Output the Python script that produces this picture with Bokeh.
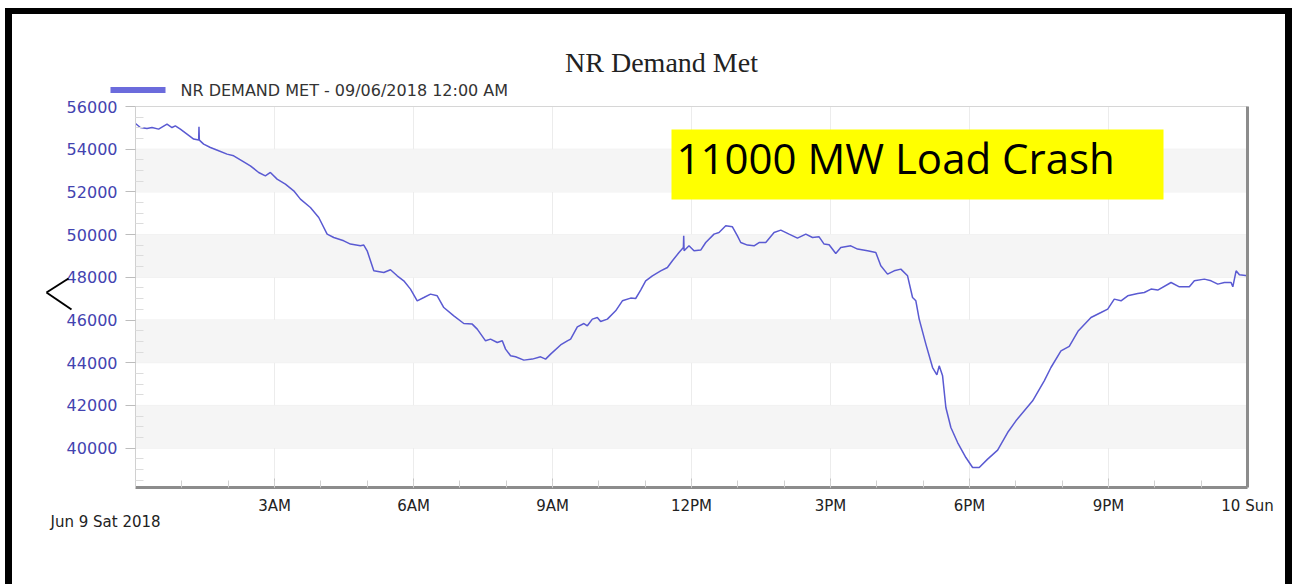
from bokeh.plotting import figure
from bokeh.models import (Range1d, FixedTicker, LinearAxis, Label, BoxAnnotation,
                          ColumnDataSource, Arrow, Div)
from bokeh.layouts import column, row
from bokeh.embed import file_html
from bokeh.resources import INLINE

# ---------------- data ----------------
hours = [0.000, 0.104, 0.248, 0.356, 0.499, 0.680, 0.788, 0.860, 0.968, 1.112,
         1.255, 1.363, 1.370, 1.378, 1.471, 1.616, 1.795, 1.976, 2.119, 2.300,
         2.479, 2.659, 2.803, 2.911, 3.056, 3.235, 3.415, 3.559, 3.775, 3.955,
         4.136, 4.279, 4.495, 4.639, 4.855, 4.927, 5.000, 5.143, 5.359, 5.503,
         5.648, 5.790, 5.935, 6.080, 6.223, 6.367, 6.512, 6.654, 6.870, 7.086,
         7.268, 7.376, 7.555, 7.663, 7.808, 7.916, 7.987, 8.095, 8.203, 8.382,
         8.564, 8.743, 8.851, 8.959, 9.175, 9.320, 9.391, 9.536, 9.678, 9.752,
         9.860, 9.968, 10.039, 10.184, 10.363, 10.508, 10.687, 10.795, 10.903, 11.011,
         11.156, 11.335, 11.480, 11.588, 11.730, 11.825, 11.832, 11.840, 11.946, 12.054,
         12.199, 12.307, 12.486, 12.594, 12.739, 12.883, 12.991, 13.063, 13.207, 13.350,
         13.458, 13.603, 13.782, 13.927, 14.106, 14.287, 14.467, 14.611, 14.754, 14.862,
         14.970, 15.114, 15.222, 15.438, 15.583, 15.799, 15.978, 16.086, 16.231, 16.374,
         16.518, 16.663, 16.771, 16.842, 16.914, 17.058, 17.203, 17.296, 17.346, 17.419,
         17.490, 17.598, 17.743, 17.922, 18.067, 18.210, 18.391, 18.607, 18.823, 19.002,
         19.363, 19.613, 19.758, 19.974, 20.153, 20.341, 20.622, 20.838, 20.983, 21.125,
         21.270, 21.415, 21.631, 21.773, 21.918, 22.063, 22.350, 22.529, 22.745, 22.853,
         23.069, 23.214, 23.359, 23.501, 23.646, 23.683, 23.754, 23.825, 24.000]

demand_mw = [55204, 55016, 54970, 55016, 54941, 55176, 55016, 55096, 54941, 54707,
             54473, 54426, 55049, 54426, 54239, 54080, 53925, 53770, 53691, 53457,
             53222, 52909, 52754, 52909, 52599, 52365, 52051, 51663, 51269, 50801,
             50023, 49864, 49709, 49555, 49475, 49508, 49241, 48304, 48225, 48351,
             48070, 47836, 47447, 46899, 47054, 47213, 47133, 46585, 46196, 45836,
             45808, 45573, 45025, 45105, 44946, 45025, 44637, 44323, 44276, 44121,
             44168, 44276, 44168, 44402, 44830, 45025, 45105, 45681, 45836, 45728,
             46042, 46117, 45929, 46042, 46431, 46899, 47025, 47007, 47400, 47836,
             48070, 48304, 48459, 48773, 49161, 49396, 49944, 49241, 49475, 49241,
             49274, 49630, 50023, 50098, 50412, 50365, 49944, 49630, 49508, 49475,
             49630, 49630, 50098, 50211, 50023, 49836, 50023, 49864, 49897, 49555,
             49522, 49115, 49396, 49475, 49321, 49241, 49161, 48538, 48150, 48304,
             48384, 48070, 47054, 46899, 46042, 44871, 43775, 43433, 43854, 43386,
             41901, 40964, 40262, 39559, 39091, 39091, 39484, 39906, 40730, 41278,
             42215, 43152, 43775, 44557, 44768, 45470, 46117, 46351, 46510, 46979,
             46899, 47133, 47241, 47288, 47447, 47400, 47756, 47555, 47555, 47836,
             47915, 47836, 47681, 47756, 47756, 47555, 48304, 48117, 48070]

x_tick_hours = [3, 6, 9, 12, 15, 18, 21, 24]
x_tick_labels = ["3AM", "6AM", "9AM", "12PM", "3PM", "6PM", "9PM", "10 Sun"]
y_ticks = [40000, 42000, 44000, 46000, 48000, 50000, 52000, 54000, 56000]
y_bottom = 38155
hour_start, hour_end = 0, 24

title_text = "NR Demand Met"
series_name = "NR DEMAND MET - 09/06/2018  12:00 AM"
date_label = "Jun 9 Sat 2018"
annotation_text = "11000 MW Load Crash"

# ---------------- geometry (page pixels) ----------------
CX, CY = 12, 14          # canvas origin on the page
W, H = 1273, 570         # canvas size
PL, PR, PT, PB = 135, 1247, 106, 487   # plot area on the page
y_top = y_ticks[-1]
kx = (PR - PL) / (hour_end - hour_start)
ky = (y_top - y_bottom) / (PB - PT)


def hx(px):
    return hour_start + (px - PL) / kx


def vy(py):
    return y_top - (py - PT) * ky


p = figure(width=W, height=H, output_backend="svg", toolbar_location=None, title=None,
           x_range=Range1d(hx(CX), hx(CX + W)), y_range=Range1d(vy(CY + H), vy(CY)),
           min_border_left=0, min_border_right=0, min_border_top=0, min_border_bottom=0)
p.background_fill_color = "white"
p.border_fill_color = "white"
p.outline_line_color = None
p.xgrid.visible = False
p.ygrid.visible = False

# background bands and grid lines of the plot area
for lo, hi in zip(y_ticks[0::2], y_ticks[1::2]):
    p.add_layout(BoxAnnotation(left=hour_start, right=hour_end, bottom=lo, top=hi,
                               fill_color="#f5f5f5", fill_alpha=1.0, line_color=None,
                               level="underlay"))
p.segment(x0=[hour_start] * len(y_ticks), y0=y_ticks, x1=[hour_end] * len(y_ticks),
          y1=y_ticks, line_color="#ededed", line_width=1, level="underlay")
p.segment(x0=x_tick_hours[:-1], y0=[y_bottom] * (len(x_tick_hours) - 1),
          x1=x_tick_hours[:-1], y1=[y_top] * (len(x_tick_hours) - 1),
          line_color="#ececec", line_width=1, level="underlay")

x_ticker = FixedTicker(ticks=x_tick_hours, minor_ticks=list(range(1, 24)))
y_minor = [v for v in range(38500, 56000, 500) if v % 2000 != 0]
y_ticker = FixedTicker(ticks=y_ticks, minor_ticks=y_minor)

xa = p.xaxis[0]
xa.fixed_location = y_bottom
xa.bounds = (hour_start, hour_end)
xa.ticker = x_ticker
xa.major_label_overrides = {float(h): l for h, l in zip(x_tick_hours, x_tick_labels)}
xa.axis_line_color = "#8c8c8c"
xa.axis_line_width = 3
xa.major_tick_in = 9
xa.major_tick_out = 0
xa.major_tick_line_color = "#c4c4c4"
xa.minor_tick_in = 7
xa.minor_tick_out = 0
xa.minor_tick_line_color = "#d0d0d0"
xa.major_label_text_font = "DejaVu Sans"
xa.major_label_text_font_size = "15px"
xa.major_label_text_color = "#222222"
xa.major_label_standoff = 9

ya = p.yaxis[0]
ya.fixed_location = hour_start
ya.bounds = (y_bottom, y_top)
ya.ticker = y_ticker
ya.axis_line_color = "#d0d0d0"
ya.axis_line_width = 1
ya.major_tick_out = 10
ya.major_tick_in = 0
ya.major_tick_line_color = "#bdbdbd"
ya.minor_tick_in = 8
ya.minor_tick_out = 0
ya.minor_tick_line_color = "#dcdcdc"
ya.major_label_text_font = "DejaVu Sans"
ya.major_label_text_font_size = "16px"
ya.major_label_text_color = "#4343b0"
ya.major_label_standoff = 8

ra = LinearAxis(fixed_location=hour_end, bounds=(y_bottom, y_top),
                ticker=FixedTicker(ticks=[]), major_label_text_font_size="0px",
                major_tick_in=0, major_tick_out=0, minor_tick_in=0, minor_tick_out=0,
                axis_line_color="#8c8c8c", axis_line_width=3)
p.add_layout(ra, "right")
ta = LinearAxis(fixed_location=y_top, bounds=(hour_start, hour_end),
                ticker=FixedTicker(ticks=[]), major_label_text_font_size="0px",
                major_tick_in=0, major_tick_out=0, minor_tick_in=0, minor_tick_out=0,
                axis_line_color="#d6d6d6", axis_line_width=1)
p.add_layout(ta, "above")

src = ColumnDataSource(data=dict(h=hours, mw=demand_mw))
p.line("h", "mw", source=src, line_color="#5a5ad2", line_width=1.5)

# title, legend, date
p.add_layout(Label(x=hx(661), y=vy(62), text=title_text, text_font="Liberation Serif",
                   text_font_size="28px", text_color="#222222",
                   text_align="center", text_baseline="middle"))
p.add_layout(BoxAnnotation(left=hx(110), right=hx(165), top=vy(86.5), bottom=vy(92.5),
                           fill_color="#6b6bdc", fill_alpha=1.0, line_color=None))
p.add_layout(Label(x=hx(180), y=vy(89.5), text=series_name, text_font="DejaVu Sans",
                   text_font_size="16px", text_color="#333333",
                   text_align="left", text_baseline="middle"))
p.add_layout(Label(x=hx(50), y=vy(521), text=date_label, text_font="DejaVu Sans",
                   text_font_size="15px", text_color="#222222",
                   text_align="left", text_baseline="middle"))

# yellow annotation box
p.add_layout(BoxAnnotation(left=hx(671), right=hx(1163), top=vy(129), bottom=vy(199),
                           fill_color="#ffff00", fill_alpha=1.0, line_color=None))
p.add_layout(Label(x=hx(676), y=vy(157), text=annotation_text, text_font="Open Sans",
                   text_font_size="42px", text_color="black",
                   text_baseline="alphabetic", text_align="left"))

# left chevron
p.add_layout(Arrow(start=None, end=None, x_start=hx(68), y_start=vy(278),
                   x_end=hx(46), y_end=vy(292), line_color="black", line_width=2))
p.add_layout(Arrow(start=None, end=None, x_start=hx(46), y_start=vy(292),
                   x_end=hx(71), y_end=vy(309), line_color="black", line_width=2))

black = {"background-color": "black"}
top_bar = Div(width=1287, height=6, margin=(8, 0, 0, 5), styles=black)
left_bar = Div(width=7, height=H, margin=(0, 0, 0, 5), styles=black)
right_bar = Div(width=7, height=H, margin=(0, 0, 0, 0), styles=black)
p.margin = (0, 0, 0, 0)
layout = column(top_bar, row(left_bar, p, right_bar, spacing=0), spacing=0,
                margin=(0, 0, 0, 0))

open("out.html", "w").write(file_html(layout, INLINE))
